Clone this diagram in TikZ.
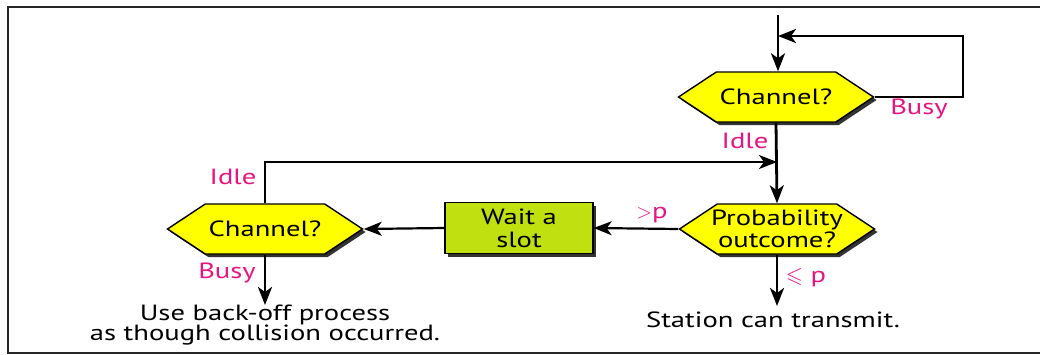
\documentclass[tikz,border=0pt]{standalone}
\usepackage{amssymb}
\usepackage{fontspec}
\setmainfont[FakeStretch=1.3]{PT Sans}
\usetikzlibrary{shapes.symbols, shadows, arrows.meta}

\definecolor{hexyellow}{RGB}{255,255,0}
\definecolor{slotgreen}{RGB}{192,224,16}
\definecolor{labelpink}{RGB}{232,20,128}

\newcommand{\narrowline}[1]{\makebox[100pt]{#1}}

\tikzset{
  decision/.style={signal, signal to=west and east, signal pointer angle=67,
    draw, line width=1.4pt, fill=hexyellow, minimum width=195pt,
    minimum height=50pt, inner sep=0pt, align=center,
    drop shadow={shadow xshift=3pt, shadow yshift=-3pt, fill=black!80, opacity=1}},
  waitbox/.style={rectangle, draw, line width=1.4pt, fill=slotgreen,
    minimum width=148pt, minimum height=51pt, inner sep=0pt, align=center,
    drop shadow={shadow xshift=3pt, shadow yshift=-3pt, fill=black!80, opacity=1}},
  answer/.style={text=labelpink},
}

\begin{document}
\begin{tikzpicture}[x=1pt, y=-1pt, line width=2.8pt,
  font=\fontsize{22}{20}\selectfont,
  >={Stealth[length=18pt, width=14pt, inset=5pt]}]

\useasboundingbox (0,0) rectangle (1040,354);

% frame
\draw[line width=2pt, black!85] (1040,7) -- (8,7) -- (8,353) -- (1040,353);

% boxes
\node[decision] (chan1) at (776,97) {Channel?};
\node[decision] (prob) at (777,229) {\narrowline{Probability}\\[1pt]\narrowline{outcome?}};
\node[waitbox] (wait) at (519,228) {Wait a\\[3pt]slot};
\node[decision] (chan2) at (265,229) {Channel?};

\coordinate (entry) at (778,15);
\coordinate (loopin) at (778,36);
\coordinate (idlein) at (777,162);
\coordinate (sendend) at (777,306);
\coordinate (backend) at (265,305);

% arrows
\draw[->] (entry) -- (entry |- chan1.north);
\draw[->, line width=2.4pt] (chan1.east) -- ++(88,0) |- (loopin);
\draw[->] (chan1.south) -- (prob.north);
\draw[->, line width=2.2pt] (prob.west) -- (wait.east);
\draw[->, line width=2.2pt] (wait.west) -- (chan2.east);
\draw[->, line width=2.4pt] (chan2.north) |- (idlein);
\draw[->] (prob.south) -- (sendend);
\draw[->] (chan2.south) -- (backend);

% labels
\node[answer] at (919,109) {Busy};
\node[answer] at (745,141) {Idle};
\node[answer] at (233,177) {Idle};
\node[answer] at (227,273) {Busy};
\node[answer] at (652,215) {$>$p};
\node[answer] at (806,278) {$\leqslant$ p};

\node at (773,320) {Station can transmit.};
\node[align=center] at (265,325) {Use back-off process\\as though collision occurred.};

\end{tikzpicture}
\end{document}
